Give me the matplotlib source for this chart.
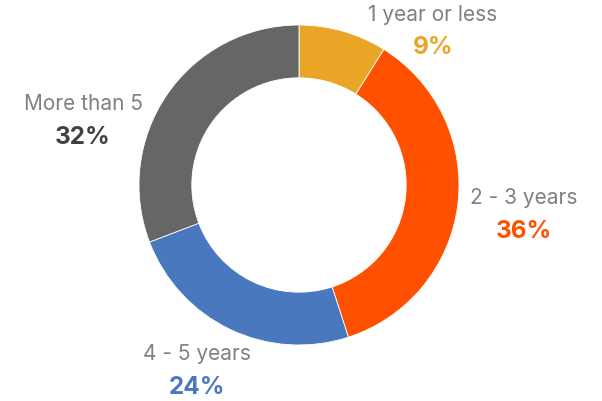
import matplotlib
matplotlib.use("Agg")
import matplotlib.pyplot as plt

categories = ["1 year or less", "2 - 3 years", "4 - 5 years", "More than 5"]
# slice sizes; labels show the rounded figures
shares = [8.9, 36.1, 24.2, 30.8]
pct_labels = ["9%", "36%", "24%", "32%"]
colors = ["#E9A525", "#FF5000", "#4A78BF", "#666666"]
pct_colors = ["#E9A525", "#FF5000", "#4A78BF", "#404040"]

plt.rcParams['font.family'] = ['Inter', 'DejaVu Sans']

fig = plt.figure(figsize=(6.02, 4.01), dpi=100)
ax = fig.add_axes([0, 0, 1, 1])

# donut centred in pixel coords (y up)
cx, cy, r = 299, 401 - 185, 160
ax.pie(shares, colors=colors, startangle=90, counterclock=False,
       center=(cx, cy), radius=r,
       wedgeprops=dict(width=r * 0.33, edgecolor="white", linewidth=0.6))

ax.set_xlim(0, 602)
ax.set_ylim(0, 401)
ax.set_aspect("equal")
ax.axis("off")

# label positions (pixel coords, top-down)
label_pos = [(433, 15), (524, 198), (197, 354), (83, 104)]
for name, pct, pc, (x, y) in zip(categories, pct_labels, pct_colors, label_pos):
    ax.text(x, 401 - y, name, ha="center", va="center", fontsize=15, color="#808080")
    ax.text(x, 401 - y - 33, pct, ha="center", va="center", fontsize=17.5,
            fontweight="bold", color=pc)

fig.savefig("out.png", dpi=100)
